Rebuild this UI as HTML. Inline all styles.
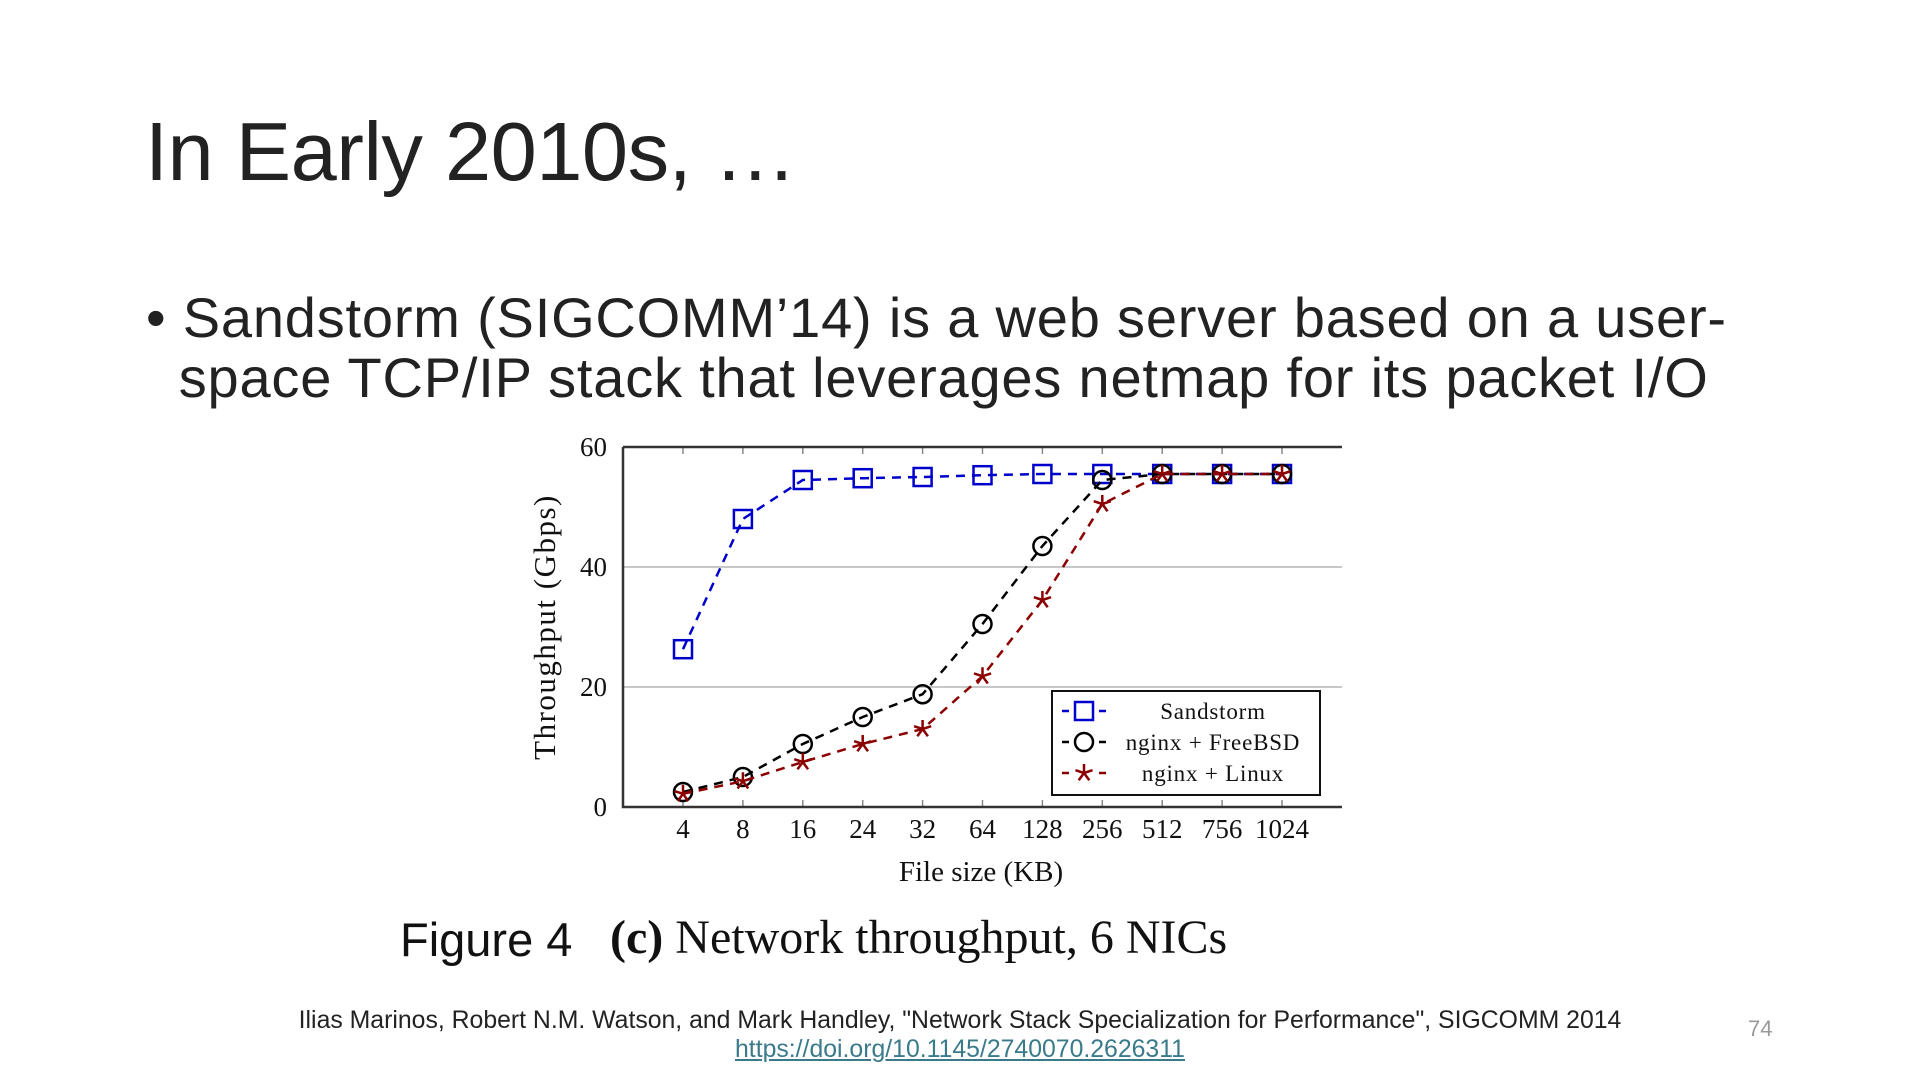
<!DOCTYPE html>
<html><head><meta charset="utf-8"><style>
body{margin:0;width:1920px;height:1080px;background:#fff;overflow:hidden;position:relative;font-family:"Liberation Sans","Noto Sans CJK JP",sans-serif}
.a{position:absolute;white-space:nowrap}
</style></head><body>
<div class="a" style="left:145px;top:104px;font-size:83px;font-weight:300;color:#222;letter-spacing:-0.5px">In Early 2010s, …</div>
<div class="a" style="left:146px;top:288px;font-size:56px;line-height:60px;color:#222;letter-spacing:0.8px">• Sandstorm (SIGCOMM’14) is a web server based on a user-<br>&nbsp;&nbsp;space TCP/IP stack that leverages netmap for its packet I/O</div>
<svg class="a" style="left:0;top:0" width="1920" height="1080" id="chart" font-family="Liberation Serif, serif"></svg>
<div class="a" style="left:400px;top:912px;font-size:47px;color:#111">Figure 4</div>
<div class="a" style="left:610px;top:910px;font-size:48px;font-family:'Liberation Serif',serif;color:#111"><b>(c)</b> Network throughput, 6 NICs</div>
<div class="a" style="left:0;width:1920px;text-align:center;top:1007px;font-size:24.8px;color:#222">Ilias Marinos, Robert N.M. Watson, and Mark Handley, "Network Stack Specialization for Performance", SIGCOMM 2014</div>
<a class="a" style="left:0;width:1920px;text-align:center;top:1036px;font-size:24.8px;color:#3a7a8a;text-decoration:underline">https://doi.org/10.1145/2740070.2626311</a>
<div class="a" style="left:1748px;top:1016px;font-size:22px;color:#999">74</div>
<script>
const categories=["4","8","16","24","32","64","128","256","512","756","1024"];
const sandstorm=[26.3,48,54.5,54.8,55,55.3,55.5,55.5,55.5,55.5,55.5];
const freebsd=[2.5,5,10.5,15,18.8,30.5,43.5,54.5,55.5,55.5,55.5];
const linux=[2.2,4.3,7.5,10.5,13,21.8,34.5,50.5,55.5,55.5,55.5];
const yTicks=[0,20,40,60];
const svg=document.getElementById('chart');
const NS='http://www.w3.org/2000/svg';
const L=623,R=1342,T=447,B=807,X0=683,DX=59.9;
const x=i=>X0+i*DX, y=v=>B-(v/60)*(B-T);
function mk(tag,at,name){const e=document.createElementNS(NS,tag);for(const k in at)e.setAttribute(k,at[k]);


svg.appendChild(e);return e;}
yTicks.forEach(t=>{if(t>0&&t<60)mk('line',{x1:L,x2:R,y1:y(t),y2:y(t),stroke:'#c8c8c8','stroke-width':2},'grid-line');
const tx=mk('text',{x:L-16,y:y(t)+9,'text-anchor':'end','font-size':27,fill:'#111'},'y-tick-label');tx.textContent=t;});
categories.forEach((c,i)=>{mk('line',{x1:x(i),x2:x(i),y1:B,y2:B-7,stroke:'#888','stroke-width':1.5},'x-tick');
mk('line',{x1:x(i),x2:x(i),y1:T,y2:T+7,stroke:'#888','stroke-width':1.5},'x-tick-top');
const tx=mk('text',{x:x(i),y:B+31,'text-anchor':'middle','font-size':27,fill:'#111'},'x-tick-label');tx.textContent=c;});
mk('path',{d:`M${L},${T}H${R}M${L},${T}V${B}H${R}`,stroke:'#333','stroke-width':2.5,fill:'none'},'axes');
let t=mk('text',{x:981,y:881,'text-anchor':'middle','font-size':29,fill:'#111'},'x-axis-title');t.textContent='File size (KB)';
t=mk('text',{x:0,y:0,'text-anchor':'middle','font-size':31,'letter-spacing':1.5,fill:'#111',transform:`translate(555,627) rotate(-90)`},'y-axis-title');t.textContent='Throughput (Gbps)';
function marker(type,cx,cy,col,name){
 if(type==='sq')mk('rect',{x:cx-9,y:cy-9,width:18,height:18,fill:'#fff','fill-opacity':0,stroke:col,'stroke-width':2.5},name);
 else if(type==='ci')mk('circle',{cx,cy,r:9,fill:'none',stroke:col,'stroke-width':2.5},name);
 else{let d='';for(let k=0;k<5;k++){const a=-Math.PI/2+k*2*Math.PI/5;d+=`M${cx},${cy}L${cx+9*Math.cos(a)},${cy+9*Math.sin(a)}`;}
 mk('path',{d,stroke:col,'stroke-width':2.5,fill:'none'},name);}
}
function series(vals,col,type,name){
 mk('polyline',{points:vals.map((v,i)=>x(i)+','+y(v)).join(' '),fill:'none',stroke:col,'stroke-width':2.5,'stroke-dasharray':'9,7'},name+'-line');
 vals.forEach((v,i)=>marker(type,x(i),y(v),col,name+'-point'));
}
series(sandstorm,'#0000cc','sq','sandstorm');
series(freebsd,'#000','ci','freebsd');
series(linux,'#8b0000','st','linux');
mk('rect',{x:1052,y:691,width:268,height:104,fill:'#fff',stroke:'#111','stroke-width':2},'legend-box');
const leg=[['Sandstorm','#0000cc','sq'],['nginx + FreeBSD','#000','ci'],['nginx + Linux','#8b0000','st']];
leg.forEach((l,k)=>{const cy=711+k*31;
 mk('path',{d:`M1062,${cy}H1069M1099,${cy}H1106`,stroke:l[1],'stroke-width':2.5},'legend-line');
 marker(l[2],1084,cy,l[1],'legend-marker');
 const tx=mk('text',{x:1213,y:cy+8,'text-anchor':'middle','font-size':23,'letter-spacing':0.8,fill:'#111'},'legend-entry');tx.textContent=l[0];});
</script>
</body></html>
